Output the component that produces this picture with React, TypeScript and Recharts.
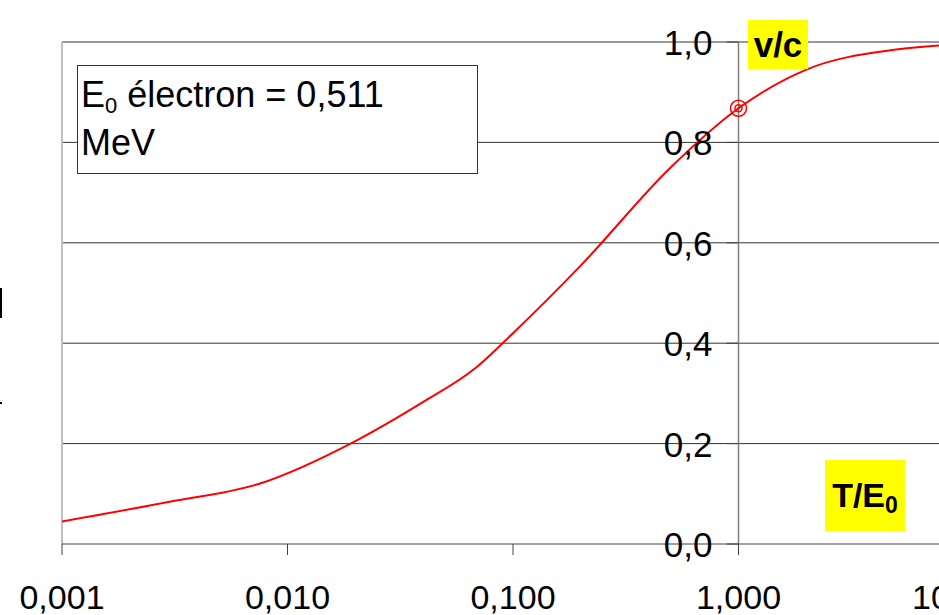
import { LineChart, Line, XAxis, YAxis, ReferenceLine, ReferenceDot } from "recharts";

// T/E0 (log scale) and v/c
const ratioT = [0.001, 0.003, 0.0075, 0.02, 0.04, 0.068, 0.1, 0.2, 0.5, 1, 2, 5, 10];
const speed = [0.045, 0.084, 0.12, 0.205, 0.283, 0.35, 0.42, 0.555, 0.75, 0.868, 0.945, 0.985, 0.996];

const xTicks = [0.001, 0.01, 0.1, 1, 10];
const xTickLabels = ["0,001", "0,010", "0,100", "1,000", "10,000"];
const yTicks = [0, 0.2, 0.4, 0.6, 0.8, 1.0];
const yTickLabels = ["0,0", "0,2", "0,4", "0,6", "0,8", "1,0"];

const markX = 1;
const markY = 0.868;

const data = ratioT.map((x, i) => ({ x, v: speed[i] }));

const FONT = "'Liberation Sans', Arial, sans-serif";

function XTick(props: any) {
  const { x, payload } = props;
  const i = xTicks.indexOf(payload.value);
  return (
    <text x={x} y={609} textAnchor="middle" fontFamily={FONT} fontSize={34} fill="#000">
      {i >= 0 ? xTickLabels[i] : ""}
    </text>
  );
}

function YTickShape(label: string) {
  return (p: any) => (
    <g>
      <line x1={p.cx - 12} y1={p.cy} x2={p.cx} y2={p.cy} stroke="#404040" strokeWidth={1} />
      <text x={p.cx - 26} y={p.cy + 13} textAnchor="end" fontFamily={FONT} fontSize={35} fill="#000">
        {label}
      </text>
    </g>
  );
}

function MarkShape(p: any) {
  return (
    <g>
      <circle cx={p.cx} cy={p.cy} r={8} fill="none" stroke="#ff0000" strokeWidth={1.5} />
      <circle cx={p.cx} cy={p.cy} r={3.5} fill="none" stroke="#ff0000" strokeWidth={1.5} />
      <line x1={p.cx - 3} y1={p.cy + 3} x2={p.cx + 3} y2={p.cy - 3} stroke="#ff0000" strokeWidth={1.2} />
    </g>
  );
}

export default function App() {
  return (
    <div
      style={{
        position: "absolute",
        left: 0,
        top: 0,
        width: 939,
        height: 615,
        overflow: "hidden",
        background: "#fff",
        fontFamily: FONT,
      }}
    >
      <LineChart width={1000} height={615} data={data} margin={{ top: 42, right: 36, bottom: 0, left: 62 }}>
        <XAxis
          dataKey="x"
          type="number"
          scale="log"
          domain={[0.001, 10]}
          ticks={xTicks}
          allowDataOverflow
          height={71}
          tickSize={11}
          stroke="#404040"
          tick={<XTick />}
          interval={0}
        />
        <YAxis type="number" domain={[0, 1]} ticks={yTicks} hide allowDataOverflow />
        {yTicks.slice(1).map((v) => (
          <ReferenceLine key={"g" + v} y={v} stroke="#333" strokeWidth={1} />
        ))}
        <ReferenceLine x={0.001} stroke="#c0c0c0" strokeWidth={2} />
        <ReferenceLine x={1} stroke="#808080" strokeWidth={1.5} />
        <ReferenceLine
          segment={[
            { x: 1, y: 0 },
            { x: 1, y: -0.022 },
          ]}
          stroke="#404040"
          ifOverflow="visible"
        />
        {yTicks.map((v, i) => (
          <ReferenceDot key={"t" + v} x={1} y={v} r={0} ifOverflow="visible" shape={YTickShape(yTickLabels[i])} />
        ))}
        <Line
          type="monotone"
          dataKey="v"
          stroke="#ff0000"
          strokeWidth={2}
          dot={false}
          isAnimationActive={false}
        />
        <ReferenceDot x={markX} y={markY} r={8} shape={MarkShape} />
      </LineChart>

      {/* E0 box */}
      <div
        style={{
          position: "absolute",
          left: 77,
          top: 65,
          width: 401,
          height: 109,
          border: "1px solid #333",
          background: "#fff",
          boxSizing: "border-box",
          fontSize: 36,
          lineHeight: "48px",
          paddingLeft: 3,
          paddingTop: 5,
          color: "#000",
        }}
      >
        <div>
          E<sub style={{ fontSize: 22, verticalAlign: "-6px", lineHeight: 0 }}>0</sub> électron = 0,511
        </div>
        <div>MeV</div>
      </div>

      {/* v/c label */}
      <div
        style={{
          position: "absolute",
          left: 748,
          top: 20,
          width: 60,
          height: 49,
          background: "#ffff00",
          fontWeight: "bold",
          fontSize: 35,
          lineHeight: "49px",
          textAlign: "center",
          color: "#000",
        }}
      >
        v/c
      </div>

      {/* T/E0 label */}
      <div
        style={{
          position: "absolute",
          left: 825,
          top: 460,
          width: 80,
          height: 71,
          background: "#ffff00",
          fontWeight: "bold",
          fontSize: 34,
          lineHeight: "71px",
          textAlign: "center",
          color: "#000",
        }}
      >
        T/E<sub style={{ fontSize: 23, verticalAlign: "-6px", lineHeight: 0 }}>0</sub>
      </div>

      {/* cut-off fragments at the left edge */}
      <div style={{ position: "absolute", left: 0, top: 288, width: 2, height: 30, background: "#000" }} />
      <div style={{ position: "absolute", left: 0, top: 402, width: 2, height: 2, background: "#000" }} />
    </div>
  );
}
